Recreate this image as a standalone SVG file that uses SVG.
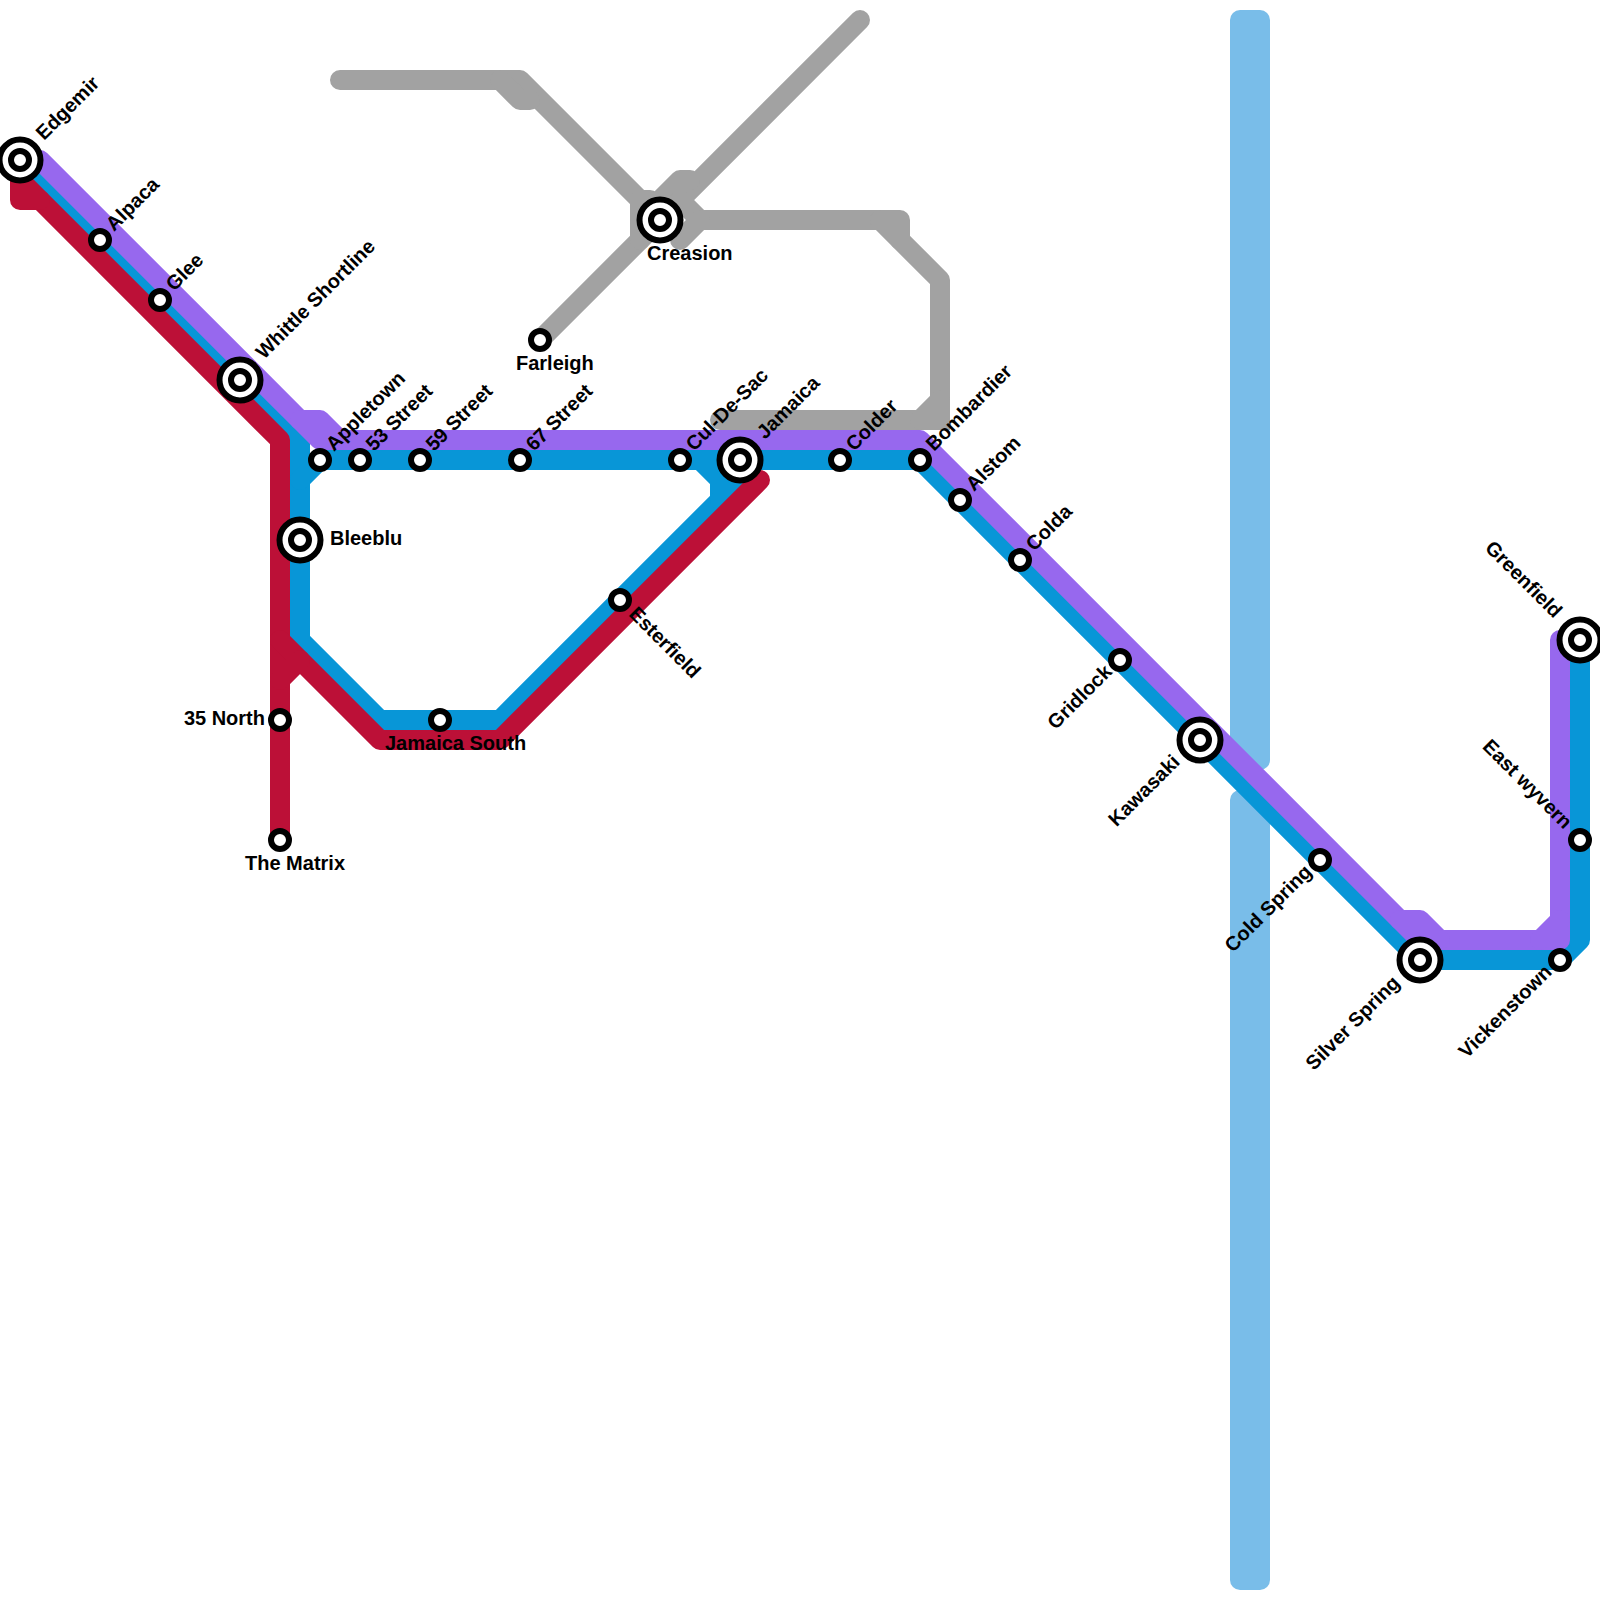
<svg xmlns="http://www.w3.org/2000/svg" width="1600" height="1600" viewBox="0 0 1600 1600">
<style>
.l{fill:none;stroke-width:20;stroke-linecap:round;stroke-linejoin:round}
.gray{stroke:#a2a2a2}.purple{stroke:#9768ee}.blue{stroke:#0896d7}.red{stroke:#bc1037}
.river{fill:#79bde9}
.s{fill:#fff;stroke:#000;stroke-width:6}
text{font-family:"Liberation Sans",Arial,sans-serif;font-weight:bold;font-size:20px;fill:#000}
.e{text-anchor:end}
</style>
<defs>
<g id="st"><circle class="s" r="9"/></g>
<g id="ic"><circle class="s" r="20.5"/><circle class="s" r="9"/></g>
</defs>
<g id="connectors">
<rect class="river" x="1230" y="10" width="40" height="760" rx="10"/>
<rect class="river" x="1230" y="790" width="40" height="800" rx="10"/>
<polyline class="l gray" points="340,80 520,80 640,200"/>
<polyline class="l gray" points="500,80 520,100 530,100"/>
<polyline class="l gray" points="860,20 540,340"/>
<polyline class="l gray" points="640,240 640,200 650,200"/>
<polyline class="l gray" points="640,220 680,180 690,180"/>
<polyline class="l gray" points="680,200 700,220 900,220 900,240"/>
<polyline class="l gray" points="680,240 700,220"/>
<polyline class="l gray" points="880,220 940,280 940,420 720,420"/>
<polyline class="l gray" points="920,420 940,400"/>
<rect x="930" y="420" width="20" height="10" fill="#a2a2a2"/>
<polyline class="l blue" points="20,160 300,440 300,640 380,720 500,720 720,500 720,480 700,460"/>
<polyline class="l blue" points="300,480 320,460 920,460 1420,960 1560,960 1580,940 1580,640"/>
<polyline class="l blue" points="720,500 740,480 740,460"/>
<polyline class="l purple" points="40,160 300,420 320,420 340,440 920,440 1400,920 1420,920 1440,940 1560,940 1560,640"/>
<polyline class="l purple" points="300,420 320,440 340,440"/>
<polyline class="l purple" points="1400,920 1420,940 1440,940"/>
<polyline class="l purple" points="1540,940 1560,920"/>
<polyline class="l red" points="20,180 20,200 40,200 280,440 280,840"/>
<polyline class="l red" points="20,180 40,200"/>
<polyline class="l red" points="280,640 380,740 500,740 760,480"/>
<polyline class="l red" points="280,680 300,660"/>
</g>
<g id="n-edgemir"><use href="#ic" x="20" y="160"/><text transform="translate(44,141) rotate(-45)">Edgemir</text></g>
<g id="n-alpaca"><use href="#st" x="100" y="240"/><text transform="translate(114,232) rotate(-45)">Alpaca</text></g>
<g id="n-glee"><use href="#st" x="160" y="300"/><text transform="translate(174,292) rotate(-45)">Glee</text></g>
<g id="n-whittle"><use href="#ic" x="240" y="380"/><text transform="translate(264,360) rotate(-45)">Whittle Shortline</text></g>
<g id="n-appletown"><use href="#st" x="320" y="460"/><text transform="translate(334,452) rotate(-45)">Appletown</text></g>
<g id="n-53"><use href="#st" x="360" y="460"/><text transform="translate(374,452) rotate(-45)">53 Street</text></g>
<g id="n-59"><use href="#st" x="420" y="460"/><text transform="translate(434,452) rotate(-45)">59 Street</text></g>
<g id="n-67"><use href="#st" x="520" y="460"/><text transform="translate(534,452) rotate(-45)">67 Street</text></g>
<g id="n-culdesac"><use href="#st" x="680" y="460"/><text transform="translate(694,452) rotate(-45)">Cul-De-Sac</text></g>
<g id="n-jamaica"><use href="#ic" x="740" y="460"/><text transform="translate(765,440) rotate(-45)">Jamaica</text></g>
<g id="n-colder"><use href="#st" x="840" y="460"/><text transform="translate(854,452) rotate(-45)">Colder</text></g>
<g id="n-bombardier"><use href="#st" x="920" y="460"/><text transform="translate(934,452) rotate(-45)">Bombardier</text></g>
<g id="n-alstom"><use href="#st" x="960" y="500"/><text transform="translate(974,492) rotate(-45)">Alstom</text></g>
<g id="n-colda"><use href="#st" x="1020" y="560"/><text transform="translate(1034,552) rotate(-45)">Colda</text></g>
<g id="n-gridlock"><use href="#st" x="1120" y="660"/><text class="e" transform="translate(1113,673) rotate(-45)">Gridlock</text></g>
<g id="n-kawasaki"><use href="#ic" x="1200" y="740"/><text class="e" transform="translate(1181,763) rotate(-45)">Kawasaki</text></g>
<g id="n-coldspring"><use href="#st" x="1320" y="860"/><text class="e" transform="translate(1313,873) rotate(-45)">Cold Spring</text></g>
<g id="n-silverspring"><use href="#ic" x="1420" y="960"/><text class="e" transform="translate(1401,984) rotate(-45)">Silver Spring</text></g>
<g id="n-vickenstown"><use href="#st" x="1560" y="960"/><text class="e" transform="translate(1553,973) rotate(-45)">Vickenstown</text></g>
<g id="n-eastwyvern"><use href="#st" x="1580" y="840"/><text class="e" transform="translate(1564,830) rotate(45)">East wyvern</text></g>
<g id="n-greenfield"><use href="#ic" x="1580" y="640"/><text class="e" transform="translate(1554,619) rotate(45)">Greenfield</text></g>
<g id="n-bleeblu"><use href="#ic" x="300" y="540"/><text x="330" y="545">Bleeblu</text></g>
<g id="n-35north"><use href="#st" x="280" y="720"/><text class="e" x="265" y="725">35 North</text></g>
<g id="n-matrix"><use href="#st" x="280" y="840"/><text x="245" y="870">The Matrix</text></g>
<g id="n-jamaicasouth"><use href="#st" x="440" y="720"/><text x="385" y="750">Jamaica South</text></g>
<g id="n-esterfield"><use href="#st" x="620" y="600"/><text transform="translate(628,615) rotate(45)">Esterfield</text></g>
<g id="n-farleigh"><use href="#st" x="540" y="340"/><text x="516" y="370">Farleigh</text></g>
<g id="n-creasion"><use href="#ic" x="660" y="220"/><text x="647" y="260">Creasion</text></g>
</svg>
